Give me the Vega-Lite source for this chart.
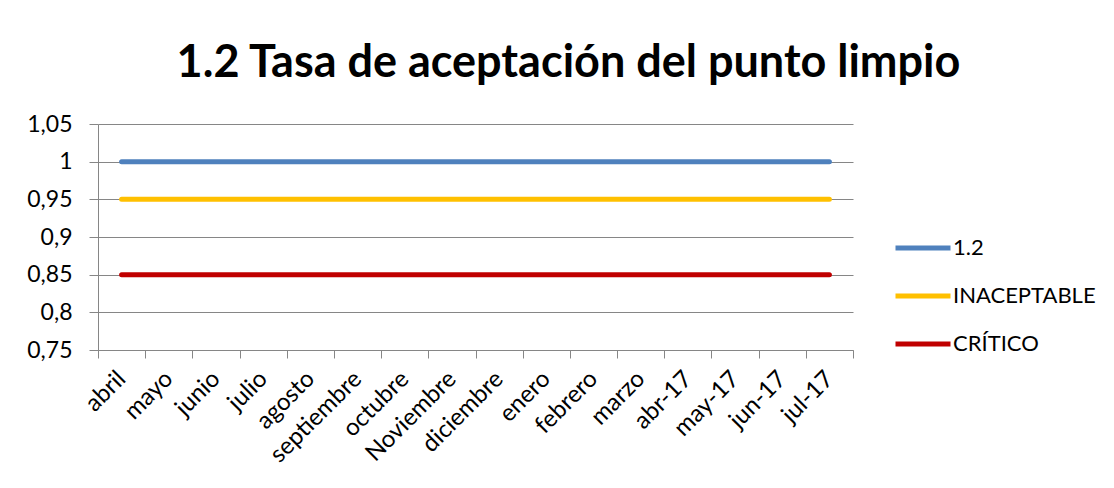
{
  "$schema": "https://vega.github.io/schema/vega-lite/v6.json",
  "autosize": {"type": "none"},
  "width": 755,
  "height": 226,
  "padding": {"left": 98, "top": 124, "right": 261, "bottom": 138},
  "background": "white",
  "title": {
    "text": "1.2 Tasa de aceptación del punto limpio",
    "font": "Lato",
    "fontSize": 45,
    "fontWeight": "bold",
    "color": "#000000",
    "anchor": "middle",
    "frame": "group",
    "dx": 93,
    "dy": 56,
    "baseline": "alphabetic",
    "offset": 47
  },
  "data": {
    "values": [
      {"mes": "abril", "serie": "1.2", "valor": 1},
      {"mes": "mayo", "serie": "1.2", "valor": 1},
      {"mes": "junio", "serie": "1.2", "valor": 1},
      {"mes": "julio", "serie": "1.2", "valor": 1},
      {"mes": "agosto", "serie": "1.2", "valor": 1},
      {"mes": "septiembre", "serie": "1.2", "valor": 1},
      {"mes": "octubre", "serie": "1.2", "valor": 1},
      {"mes": "Noviembre", "serie": "1.2", "valor": 1},
      {"mes": "diciembre", "serie": "1.2", "valor": 1},
      {"mes": "enero", "serie": "1.2", "valor": 1},
      {"mes": "febrero", "serie": "1.2", "valor": 1},
      {"mes": "marzo", "serie": "1.2", "valor": 1},
      {"mes": "abr-17", "serie": "1.2", "valor": 1},
      {"mes": "may-17", "serie": "1.2", "valor": 1},
      {"mes": "jun-17", "serie": "1.2", "valor": 1},
      {"mes": "jul-17", "serie": "1.2", "valor": 1},
      {"mes": "abril", "serie": "INACEPTABLE", "valor": 0.95},
      {"mes": "mayo", "serie": "INACEPTABLE", "valor": 0.95},
      {"mes": "junio", "serie": "INACEPTABLE", "valor": 0.95},
      {"mes": "julio", "serie": "INACEPTABLE", "valor": 0.95},
      {"mes": "agosto", "serie": "INACEPTABLE", "valor": 0.95},
      {"mes": "septiembre", "serie": "INACEPTABLE", "valor": 0.95},
      {"mes": "octubre", "serie": "INACEPTABLE", "valor": 0.95},
      {"mes": "Noviembre", "serie": "INACEPTABLE", "valor": 0.95},
      {"mes": "diciembre", "serie": "INACEPTABLE", "valor": 0.95},
      {"mes": "enero", "serie": "INACEPTABLE", "valor": 0.95},
      {"mes": "febrero", "serie": "INACEPTABLE", "valor": 0.95},
      {"mes": "marzo", "serie": "INACEPTABLE", "valor": 0.95},
      {"mes": "abr-17", "serie": "INACEPTABLE", "valor": 0.95},
      {"mes": "may-17", "serie": "INACEPTABLE", "valor": 0.95},
      {"mes": "jun-17", "serie": "INACEPTABLE", "valor": 0.95},
      {"mes": "jul-17", "serie": "INACEPTABLE", "valor": 0.95},
      {"mes": "abril", "serie": "CRÍTICO", "valor": 0.85},
      {"mes": "mayo", "serie": "CRÍTICO", "valor": 0.85},
      {"mes": "junio", "serie": "CRÍTICO", "valor": 0.85},
      {"mes": "julio", "serie": "CRÍTICO", "valor": 0.85},
      {"mes": "agosto", "serie": "CRÍTICO", "valor": 0.85},
      {"mes": "septiembre", "serie": "CRÍTICO", "valor": 0.85},
      {"mes": "octubre", "serie": "CRÍTICO", "valor": 0.85},
      {"mes": "Noviembre", "serie": "CRÍTICO", "valor": 0.85},
      {"mes": "diciembre", "serie": "CRÍTICO", "valor": 0.85},
      {"mes": "enero", "serie": "CRÍTICO", "valor": 0.85},
      {"mes": "febrero", "serie": "CRÍTICO", "valor": 0.85},
      {"mes": "marzo", "serie": "CRÍTICO", "valor": 0.85},
      {"mes": "abr-17", "serie": "CRÍTICO", "valor": 0.85},
      {"mes": "may-17", "serie": "CRÍTICO", "valor": 0.85},
      {"mes": "jun-17", "serie": "CRÍTICO", "valor": 0.85},
      {"mes": "jul-17", "serie": "CRÍTICO", "valor": 0.85}
    ]
  },
  "mark": {"type": "line", "strokeWidth": 5, "strokeCap": "round"},
  "encoding": {
    "x": {
      "field": "mes",
      "type": "nominal",
      "sort": null,
      "scale": {"type": "band", "paddingInner": 0, "paddingOuter": 0},
      "axis": {
        "title": null,
        "labelAngle": -45,
        "labelAlign": "right",
        "labelBaseline": "middle",
        "labelFont": "Lato",
        "labelFontSize": 24,
        "labelColor": "#000000",
        "labelPadding": 17,
        "tickBand": "extent",
        "tickSize": 8,
        "tickColor": "#868686",
        "domainColor": "#868686",
        "grid": false
      }
    },
    "y": {
      "field": "valor",
      "type": "quantitative",
      "scale": {"domain": [0.75, 1.05], "zero": false, "nice": false},
      "axis": {
        "title": null,
        "values": [0.75, 0.8, 0.85, 0.9, 0.95, 1, 1.05],
        "labelExpr": "replace(format(datum.value, '.2~f'), '.', ',')",
        "labelFont": "Lato",
        "labelFontSize": 23,
        "labelColor": "#000000",
        "labelPadding": 17,
        "tickSize": 9,
        "tickColor": "#868686",
        "domainColor": "#868686",
        "grid": true,
        "gridColor": "#868686",
        "gridWidth": 1
      }
    },
    "color": {
      "field": "serie",
      "type": "nominal",
      "scale": {
        "domain": ["1.2", "INACEPTABLE", "CRÍTICO"],
        "range": ["#4F81BD", "#FFC000", "#C00000"]
      },
      "legend": {
        "title": null,
        "orient": "none",
        "legendX": 795,
        "legendY": 94,
        "symbolType": "stroke",
        "symbolSize": 3025,
        "symbolStrokeWidth": 5,
        "labelFont": "Lato",
        "labelFontSize": 22,
        "labelColor": "#000000",
        "labelOffset": 0,
        "rowPadding": 7
      }
    }
  },
  "config": {
    "view": {"stroke": null},
    "axis": {"domainWidth": 1, "tickWidth": 1}
  }
}
